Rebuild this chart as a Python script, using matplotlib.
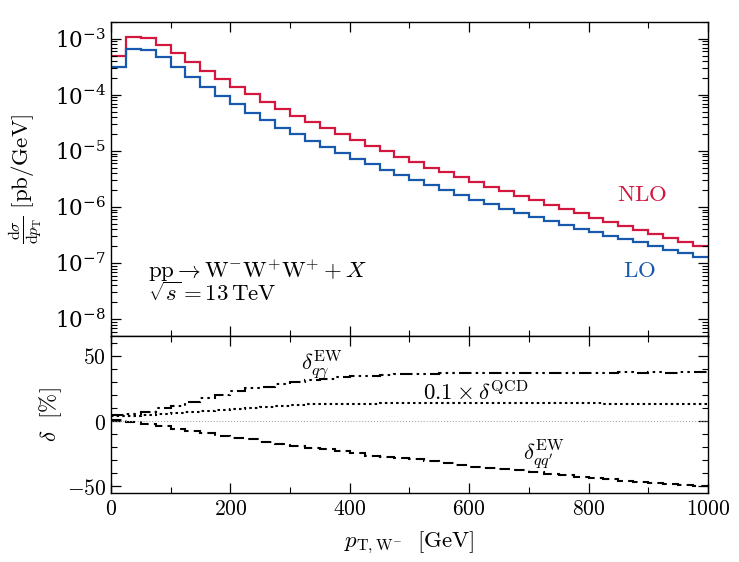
import numpy as np
import matplotlib
matplotlib.use('Agg')
import matplotlib.pyplot as plt
from matplotlib.ticker import MultipleLocator, FuncFormatter, LogLocator, NullFormatter

plt.rcParams['mathtext.fontset'] = 'cm'
plt.rcParams['font.family'] = 'serif'
plt.rcParams['font.serif'] = ['DejaVu Serif']

# 25 GeV bins from 0 to 1000 GeV
bin_edges = np.arange(0, 1001, 25)

nlo = [5.0e-4, 1.08e-3, 1.03e-3, 7.8e-4, 5.5e-4, 3.8e-4, 2.7e-4, 1.9e-4, 1.38e-4, 1.02e-4,
       7.5e-5, 5.5e-5, 4.2e-5, 3.3e-5, 2.56e-5, 2.0e-5, 1.57e-5, 1.24e-5, 9.9e-6, 7.8e-6,
       6.3e-6, 5.07e-6, 4.13e-6, 3.37e-6, 2.79e-6, 2.31e-6, 1.91e-6, 1.58e-6, 1.32e-6, 1.09e-6,
       9.1e-7, 7.7e-7, 6.5e-7, 5.5e-7, 4.6e-7, 3.9e-7, 3.3e-7, 2.8e-7, 2.4e-7, 2.04e-7]

lo = [3.2e-4, 6.7e-4, 6.4e-4, 4.7e-4, 3.1e-4, 2.07e-4, 1.41e-4, 9.5e-5, 6.8e-5, 4.8e-5,
      3.5e-5, 2.6e-5, 2.0e-5, 1.51e-5, 1.17e-5, 9.1e-6, 7.1e-6, 5.75e-6, 4.6e-6, 3.66e-6,
      2.98e-6, 2.44e-6, 2.0e-6, 1.65e-6, 1.36e-6, 1.12e-6, 9.4e-7, 7.9e-7, 6.7e-7, 5.7e-7,
      4.8e-7, 4.1e-7, 3.55e-7, 3.03e-7, 2.66e-7, 2.35e-7, 1.99e-7, 1.74e-7, 1.49e-7, 1.29e-7]

# relative corrections in %
delta_qgamma = [4.3, 5.1, 6.6, 9.7, 11.7, 14.5, 17.3, 19.9, 22.9, 25.0,
                26.2, 28.0, 29.5, 31.5, 32.5, 33.5, 34.2, 34.8, 35.2, 35.6,
                35.9, 36.2, 36.4, 36.5, 36.6, 36.6, 36.7, 36.8, 36.9, 37.0,
                37.0, 37.1, 37.0, 37.1, 37.2, 37.1, 37.2, 37.1, 37.2, 37.2]

delta_qcd = [3.8, 4.0, 4.5, 5.2, 6.0, 6.8, 7.8, 8.6, 9.4, 10.2,
             10.9, 11.6, 12.2, 12.8, 13.0, 13.2, 13.3, 13.4, 13.5, 13.6,
             13.6, 13.7, 13.7, 13.7, 13.8, 13.8, 13.8, 13.8, 13.7, 13.7,
             13.6, 13.6, 13.5, 13.4, 13.3, 13.2, 13.1, 13.0, 12.9, 12.8]

delta_qq = [0.8, -0.5, -2.3, -3.8, -5.9, -7.4, -9.4, -11.2, -12.7, -13.7,
            -15.8, -17.8, -18.8, -20.4, -21.4, -22.9, -24.7, -26.5, -27.7, -28.5,
            -29.0, -30.5, -32.0, -33.5, -34.8, -35.6, -36.6, -37.8, -39.0, -40.2,
            -41.5, -42.5, -43.2, -44.5, -45.7, -46.3, -47.5, -47.8, -48.9, -49.9]

red = '#d3173f'
blue = '#1759ad'
fs = 15.5
fs_txt = 16.5

fig = plt.figure(figsize=(7.39, 5.62), dpi=100)
ax1 = fig.add_axes([0.150, 0.4021, 0.808, 0.5588])
ax2 = fig.add_axes([0.150, 0.1228, 0.808, 0.2793], sharex=ax1)

ax1.stairs(nlo, bin_edges, baseline=None, color=red, lw=1.6)
ax1.stairs(lo, bin_edges, baseline=None, color=blue, lw=1.6)
ax1.set_yscale('log')
ax1.set_ylim(5e-9, 2e-3)
ax1.set_xlim(0, 1000)
ax1.yaxis.set_major_locator(LogLocator(base=10, numticks=12))
ax1.yaxis.set_minor_locator(LogLocator(base=10, subs=np.arange(2, 10), numticks=12))
ax1.yaxis.set_minor_formatter(NullFormatter())
ax1.tick_params(labelbottom=False)
ax1.set_ylabel(r'$\frac{\mathrm{d}\sigma}{\mathrm{d}p_{\mathrm{T}}}\ [\mathrm{pb/GeV}]$', fontsize=fs_txt, labelpad=8)

ax1.text(889, 1.66e-6, r'$\mathrm{NLO}$', color=red, fontsize=fs_txt, ha='center', va='center')
ax1.text(886, 7.2e-8, r'$\mathrm{LO}$', color=blue, fontsize=fs_txt, ha='center', va='center')
ax1.text(62, 7.4e-8, r'$\mathrm{pp}\to\mathrm{W}^{-}\mathrm{W}^{+}\mathrm{W}^{+}+X$', fontsize=fs_txt, ha='left', va='center')
ax1.text(62, 2.8e-8, r'$\sqrt{s}=13\,\mathrm{TeV}$', fontsize=fs_txt, ha='left', va='center')

ax2.axhline(0, color='#999999', lw=0.7, ls=(0, (1, 2)))
ax2.stairs(delta_qgamma, bin_edges, baseline=None, color='black', lw=1.5, ls=(0, (6, 2, 1.2, 2, 1.2, 2)))
ax2.stairs(delta_qcd, bin_edges, baseline=None, color='black', lw=1.5, ls=(0, (1.2, 1.5)))
ax2.stairs(delta_qq, bin_edges, baseline=None, color='black', lw=1.5, ls=(0, (5, 2.5)))
ax2.set_ylim(-55, 65)
ax2.yaxis.set_major_locator(MultipleLocator(50))
ax2.yaxis.set_minor_locator(MultipleLocator(10))
ax2.xaxis.set_major_locator(MultipleLocator(200))
ax2.xaxis.set_minor_locator(MultipleLocator(100))
ax2.set_ylabel(r'$\delta\ \ [\%]$', fontsize=fs_txt, labelpad=2)
ax2.set_xlabel(r'$p_{\mathrm{T,W^{-}}}\ \ [\mathrm{GeV}]$', fontsize=fs_txt, labelpad=7)

ax2.text(353, 43, r'$\delta^{\mathrm{EW}}_{q\gamma}$', fontsize=fs_txt, ha='center', va='center')
ax2.text(522, 21, r'$0.1\times\delta^{\mathrm{QCD}}$', fontsize=fs_txt, ha='left', va='center')
ax2.text(725, -26, r"$\delta^{\mathrm{EW}}_{qq'}$", fontsize=fs_txt, ha='center', va='center')

fmt = FuncFormatter(lambda v, p: r'$%g$' % v)
ax2.xaxis.set_major_formatter(fmt)
ax2.yaxis.set_major_formatter(fmt)

for ax in (ax1, ax2):
    ax.tick_params(which='both', direction='in', top=True, right=True, labelsize=fs)
    ax.tick_params(which='major', length=7, width=0.9)
    ax.tick_params(which='minor', length=4, width=0.8)
    for s in ax.spines.values():
        s.set_linewidth(1.0)

fig.align_ylabels([ax1, ax2])
fig.savefig('out.png', dpi=100)
